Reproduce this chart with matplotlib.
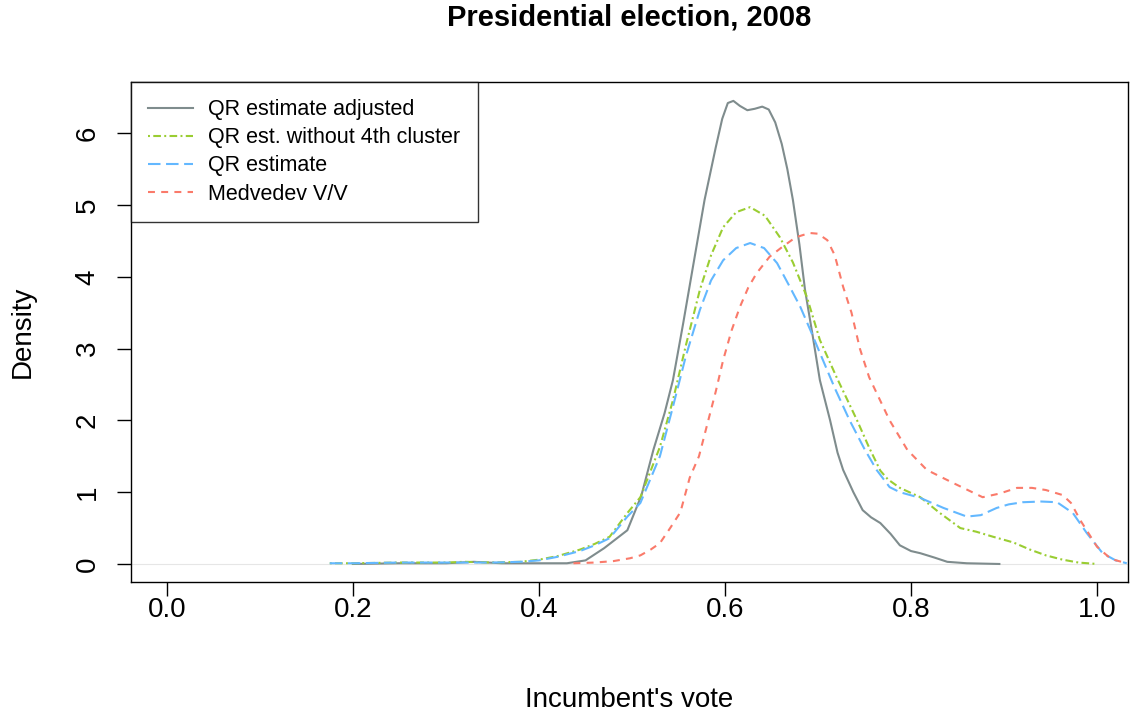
import matplotlib
matplotlib.use("Agg")
import matplotlib.pyplot as plt

plt.rcParams['font.family'] = ['Liberation Sans', 'DejaVu Sans']
plt.rcParams['lines.scale_dashes'] = False

# Series (x = incumbent's vote, y = density).
adj_x = [0.20, 0.25, 0.30, 0.33, 0.36, 0.40, 0.43, 0.45, 0.47, 0.495, 0.51, 0.523,
         0.535, 0.544, 0.555, 0.565, 0.578, 0.59, 0.597, 0.603, 0.609, 0.616, 0.624,
         0.632, 0.640, 0.647, 0.654, 0.661, 0.667, 0.673, 0.680, 0.686, 0.694, 0.702,
         0.713, 0.721, 0.727, 0.738, 0.748, 0.757, 0.767, 0.778, 0.788, 0.80, 0.81,
         0.825, 0.839, 0.86, 0.895]
adj_y = [0.00, 0.01, 0.01, 0.03, 0.01, 0.01, 0.01, 0.05, 0.22, 0.47, 0.95, 1.59,
         2.1, 2.56, 3.35, 4.1, 5.07, 5.8, 6.2, 6.42, 6.45, 6.38, 6.32,
         6.34, 6.37, 6.33, 6.15, 5.85, 5.5, 5.07, 4.45, 3.82, 3.2, 2.56,
         2.0, 1.55, 1.31, 1.0, 0.75, 0.65, 0.57, 0.42, 0.26, 0.18, 0.15,
         0.09, 0.03, 0.01, 0.0]

no4_x = [0.175, 0.20, 0.25, 0.30, 0.32, 0.35, 0.38, 0.40, 0.42, 0.444, 0.46, 0.476,
         0.495, 0.509, 0.53, 0.544, 0.558, 0.573, 0.585, 0.598, 0.612, 0.627, 0.643,
         0.659, 0.673, 0.688, 0.702, 0.72, 0.742, 0.755, 0.767, 0.775, 0.788, 0.81,
         0.83, 0.853, 0.87, 0.888, 0.91, 0.928, 0.945, 0.963, 0.98, 1.0]
no4_y = [0.01, 0.01, 0.02, 0.02, 0.03, 0.02, 0.03, 0.06, 0.11, 0.2, 0.28, 0.38,
         0.71, 0.93, 1.63, 2.28, 3.05, 3.82, 4.3, 4.69, 4.9, 4.97, 4.85,
         4.55, 4.2, 3.72, 3.12, 2.6, 2.0, 1.62, 1.3, 1.18, 1.06, 0.93,
         0.72, 0.5, 0.45, 0.38, 0.3, 0.2, 0.12, 0.06, 0.02, 0.0]

qr_x = [0.175, 0.20, 0.25, 0.30, 0.32, 0.35, 0.38, 0.40, 0.42, 0.444, 0.46, 0.476,
        0.495, 0.509, 0.53, 0.544, 0.558, 0.573, 0.585, 0.598, 0.612, 0.627, 0.642,
        0.656, 0.668, 0.681, 0.692, 0.702, 0.718, 0.734, 0.75, 0.763, 0.777, 0.788,
        0.81, 0.835, 0.86, 0.875, 0.892, 0.905, 0.92, 0.94, 0.957, 0.974, 0.989,
        1.006, 1.02, 1.032]
qr_y = [0.01, 0.01, 0.02, 0.02, 0.02, 0.02, 0.03, 0.05, 0.1, 0.18, 0.26, 0.36,
        0.66, 0.85, 1.5, 2.19, 2.9, 3.54, 3.95, 4.23, 4.4, 4.47, 4.4,
        4.19, 3.9, 3.58, 3.25, 2.94, 2.45, 2.0, 1.6, 1.31, 1.07, 1.0,
        0.92, 0.78, 0.66, 0.68, 0.78, 0.83, 0.86, 0.87, 0.86, 0.71, 0.43,
        0.15, 0.05, 0.01]

med_x = [0.437, 0.46, 0.48, 0.498, 0.509, 0.52, 0.53, 0.541, 0.552, 0.562, 0.572,
         0.581, 0.59, 0.598, 0.607, 0.616, 0.625, 0.634, 0.648, 0.662, 0.676, 0.691,
         0.70, 0.71, 0.718, 0.727, 0.736, 0.745, 0.755, 0.766, 0.777, 0.796, 0.817,
         0.845, 0.877, 0.895, 0.914, 0.93, 0.945, 0.963, 0.972, 0.982, 1.0, 1.015, 1.032]
med_y = [0.01, 0.02, 0.04, 0.08, 0.12, 0.2, 0.29, 0.5, 0.72, 1.2, 1.5,
         1.95, 2.4, 2.84, 3.25, 3.58, 3.85, 4.05, 4.28, 4.42, 4.55, 4.61,
         4.6, 4.51, 4.3, 3.86, 3.5, 3.0, 2.6, 2.3, 2.0, 1.59, 1.31,
         1.13, 0.93, 0.98, 1.06, 1.06, 1.03, 0.96, 0.85, 0.61, 0.24, 0.07, 0.01]

labels = ["QR estimate adjusted", "QR est. without 4th cluster",
          "QR estimate", "Medvedev V/V"]
x_ticks = [0.0, 0.2, 0.4, 0.6, 0.8, 1.0]
x_ticklabels = ["0.0", "0.2", "0.4", "0.6", "0.8", "1.0"]
y_ticks = [0, 1, 2, 3, 4, 5, 6]

fig = plt.figure(figsize=(11.3, 7.14), dpi=100)
ax = fig.add_axes([131 / 1130, 1 - 582 / 714, 997 / 1130, 500 / 714])

ax.axhline(0, color="#e6e6e6", lw=0.8, zorder=0)
ax.plot(adj_x, adj_y, color="#7f8c8d", lw=1.5, label=labels[0])
ax.plot(no4_x, no4_y, color="#9acd32", lw=1.5, dashes=(1.4, 2.4, 5.5, 2.4), label=labels[1])
ax.plot(qr_x, qr_y, color="#63b8ff", lw=1.5, dashes=(9.0, 4.0), label=labels[2])
ax.plot(med_x, med_y, color="#fa7a6a", lw=1.5, dashes=(5.0, 4.5), label=labels[3])

ax.set_xlim(-0.0387, 1.0333)
ax.set_ylim(-0.251, 6.713)
ax.set_xticks(x_ticks)
ax.set_xticklabels(x_ticklabels)
ax.set_yticks(y_ticks)
ax.tick_params(direction="out", length=10, width=1, labelsize=20)
ax.tick_params(axis="x", pad=1)
ax.tick_params(axis="y", pad=12)
for t in ax.get_yticklabels():
    t.set_rotation(90)
    t.set_va("center")
for s in ax.spines.values():
    s.set_linewidth(1.0)

ax.set_xlabel("Incumbent's vote", fontsize=20, va="center")
ax.xaxis.set_label_coords(0.5, -0.236)
ax.set_ylabel("Density", fontsize=20, va="center", ha="center")
ax.yaxis.set_label_coords(-0.109, 0.5)
fig.text(629 / 1130, 1 - 18 / 714, "Presidential election, 2008", fontsize=21,
         fontweight="bold", ha="center", va="center")

leg = ax.legend(loc="upper left", fontsize=15.5, frameon=True, fancybox=False,
                borderaxespad=0.0, handlelength=2.1, handletextpad=0.7,
                borderpad=0.8, labelspacing=0.33)
leg.get_frame().set_edgecolor("black")
leg.get_frame().set_linewidth(1.0)

fig.savefig("out.png", dpi=100)
